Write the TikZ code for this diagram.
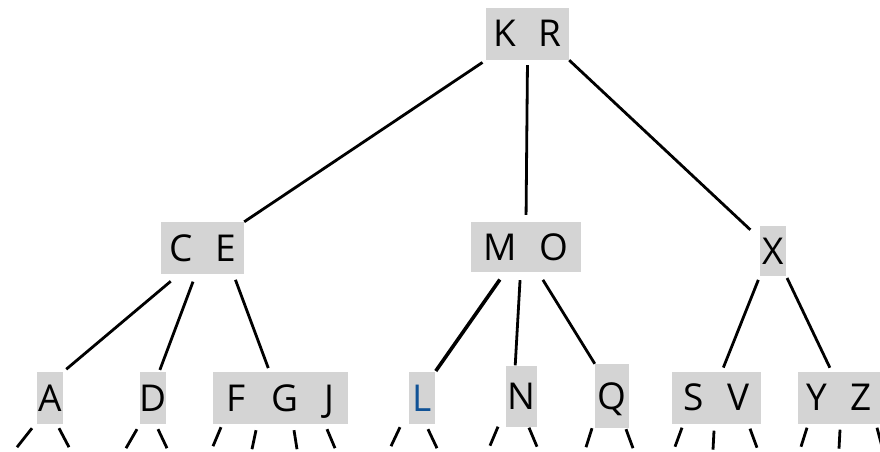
\documentclass[tikz,border=0pt]{standalone}
\usepackage{fontspec}
\setmainfont{Open Sans}
\usetikzlibrary{calc}
\definecolor{keygray}{RGB}{212,212,212}
\definecolor{keyblue}{RGB}{16,82,150}
\newcommand{\kgap}{\hspace{0.62em}}

\begin{document}
\begin{tikzpicture}[x=1pt, y=-1pt, font=\fontsize{37}{40}\selectfont,
	keybox/.style={fill=keygray, inner sep=0pt, text height=26pt, text depth=0pt, minimum height=52pt},
	link/.style={line width=2.8pt},
	stub/.style={line width=2.8pt}]
	\useasboundingbox[fill=white] (0,0) rectangle (880,452);

	% root and middle level
	\node[keybox, minimum width=83pt]			(kr)	at (527.5,34)	{K\kgap R};
	\node[keybox, minimum width=83pt]			(ce)	at (202.5,248)	{C\kgap E};
	\node[keybox, minimum width=110pt, minimum height=50pt]	(mo)	at (526,247)	{M\kgap O\hspace{22pt}};
	\node[keybox, minimum width=26pt, minimum height=50pt]	(x)	at (773,251)	{X};

	% leaves
	\node[keybox, minimum width=26pt]			(a)	at (50,398)		{A};
	\node[keybox, minimum width=26pt]			(d)	at (153,398)	{D};
	\node[keybox, minimum width=135pt]			(fgj)	at (280.5,398)	{F\hspace{0.7em}G\hspace{0.7em}J\hspace{8pt}};
	\node[keybox, minimum width=26pt, text=keyblue]	(l)	at (422,398)	{L};
	\node[keybox, minimum width=31pt, minimum height=61pt]	(n)	at (521.5,396)	{N};
	\node[keybox, minimum width=34pt, minimum height=64pt]	(q)	at (612,396)	{Q};
	\node[keybox, minimum width=89pt]			(sv)	at (716.5,397.5)	{S\kgap V};
	\node[keybox, minimum width=82pt]			(yz)	at (839,397.5)	{Y\kgap Z};

	% links from the root
	\draw[link, shorten <=4pt]				(kr.south west) -- (ce.north east);
	\draw[link, shorten <=5pt, shorten >=7pt]	(kr.south) -- (mo.north);
	\draw[link, shorten >=31pt]				(kr.south east) -- (x.center);

	% links to the leaves
	\draw[link, shorten <=11pt, shorten >=4pt]	($(ce.south west)!.22!(ce.south east)$) -- (a.north east);
	\draw[link, shorten <=8pt, shorten >=2pt]	($(ce.south west)!.42!(ce.south east)$) -- ($(d.north)!.45!(d.north east)$);
	\draw[link, shorten <=6pt, shorten >=4pt]	($(ce.south west)!.87!(ce.south east)$) -- ($(fgj.north west)!.42!(fgj.north east)$);
	\draw[link, line width=3.6pt, shorten <=9pt, shorten >=1pt]	($(mo.south west)!.31!(mo.south east)$) -- (l.north east);
	\draw[link, shorten <=8pt]				($(mo.south west)!.45!(mo.south east)$) -- ($(n.north west)!.3!(n.north east)$);
	\draw[link, shorten <=9pt]				($(mo.south west)!.61!(mo.south east)$) -- (q.north west);
	\draw[link, shorten <=4pt, shorten >=4pt]	(x.south west) -- ($(sv.north west)!.56!(sv.north east)$);
	\draw[link, shorten <=2pt, shorten >=4pt]	(x.south east) -- ($(yz.north west)!.41!(yz.north east)$);

	% stubs below the leaves
	\foreach \leaf/\off/\dy/\dx in {a/-18/4/-15, a/9/4/10, d/-16/5/-11, d/5/5/9,
		fgj/-59.5/3/-8, fgj/-24.5/6/-4, fgj/13.5/6/3, fgj/46.5/5/8,
		l/-22/3/-9, l/6/5/9, n/-23.5/0/-8, n/7.5/1/8, q/-20/0/-6, q/14/1/7,
		sv/-34.5/4/-7, sv/-2.5/7/-1, sv/33.5/5/7, yz/-32/4/-6, yz/1/6/-1, yz/38/4/5}
		\draw[stub] ([shift={(\off,\dy)}]\leaf.south) -- ++(\dx,19);
\end{tikzpicture}
\end{document}
